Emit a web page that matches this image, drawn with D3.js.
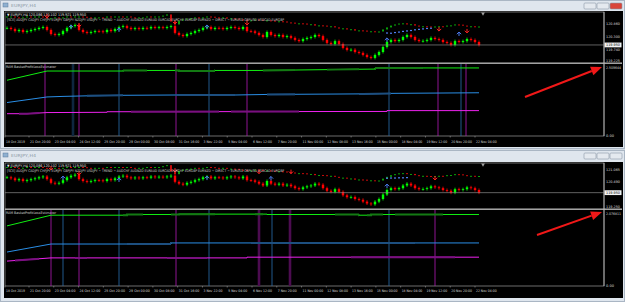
<!DOCTYPE html>
<html><head><meta charset="utf-8">
<script src="https://cdn.jsdelivr.net/npm/d3@7/dist/d3.min.js"></script>
<style>
body{margin:0;background:#d3dbe4;}
svg{display:block;font-family:"DejaVu Sans",sans-serif;}
</style></head>
<body><div id="chart"></div>
<script>
// EURJPY H4 closes (main candles), one per bar
const closes = [
  120.70,120.65,120.56,120.61,120.52,120.56,120.61,120.65,120.70,120.74,
  120.61,120.43,120.39,120.43,120.56,120.70,120.78,120.83,120.61,120.52,
  120.48,120.52,120.56,120.55,120.52,120.61,120.56,120.65,120.74,120.78,
  120.70,120.65,120.69,120.65,120.70,120.68,120.74,120.70,120.73,120.70,
  120.74,120.78,120.48,120.39,120.34,120.43,120.48,120.56,120.61,120.70,
  120.74,120.65,120.70,120.69,120.65,120.70,120.74,120.70,120.65,120.74,
  120.56,120.55,120.48,120.39,120.30,120.52,120.39,120.34,120.39,120.30,
  120.34,120.26,120.17,120.12,120.21,120.26,120.30,120.39,120.34,120.17,
  120.04,119.99,120.12,119.99,119.82,119.73,119.74,119.64,119.60,119.51,
  119.42,119.38,119.51,119.64,119.86,120.08,120.17,120.12,120.17,120.30,
  120.39,120.30,120.17,120.12,120.13,120.17,120.26,120.21,120.17,120.08,
  120.04,119.95,120.12,120.08,120.12,120.21,120.17,120.08,119.95
];
// upper overlay band (basket trend candles)
const band = [
  121.18,121.18,121.14,121.13,121.14,121.18,121.17,121.18,121.18,121.14,
  121.09,121.10,121.14,121.13,121.14,121.18,121.17,121.18,121.18,121.17,
  121.14,121.13,121.14,121.14,121.13,121.18,121.17,121.18,121.18,121.17,
  121.18,121.14,121.13,121.14,121.14,121.18,121.17,121.18,121.18,121.22,
  121.27,120.96,120.83,121.00,121.05,121.09,121.10,121.14,121.13,121.14,
  121.18,121.17,121.14,121.13,121.14,121.09,121.10,121.09,121.05,121.04,
  121.00,121.01,121.05,121.04,121.00,121.01,121.00,120.96,120.97,120.96,
  120.92,120.91,120.87,120.88,120.87,120.83,120.84,120.78,120.79,120.78,
  120.74,120.75,120.70,120.65,120.66,120.61,120.62,120.56,120.57,120.56,
  120.52,120.53,120.52,120.52,120.61,120.70,120.78,120.83,120.87,120.88,
  120.83,120.84,120.78,120.74,120.75,120.74,120.73,120.74,120.75,120.74,
  120.78,120.79,120.83,120.82,120.78,120.74,120.75,120.74,120.74
];
const timeLabels = ["18 Oct 2019","21 Oct 20:00","23 Oct 04:00","24 Oct 12:00","25 Oct 20:00",
  "29 Oct 00:00","30 Oct 08:00","31 Oct 16:00","3 Nov 22:00","5 Nov 04:00","6 Nov 12:00",
  "7 Nov 20:00","11 Nov 00:00","12 Nov 08:00","13 Nov 16:00","15 Nov 00:00","18 Nov 04:00",
  "19 Nov 12:00","20 Nov 20:00","22 Nov 04:00"];

// top window
const upTop = [[16,120.83],[28,120.70],[50,120.83],[95,120.26],[113,120.52]];
const downTop = [[10,121.14],[18,120.74],[42,120.87],[60,120.83],[108,120.56],[115,120.48]];
const trailTop = [[95,120.48],[96,120.47],[97,120.50],[98,120.52],[99,120.55],[100,120.57],
  [101,120.59],[102,120.62],[103,120.64],[104,120.66],[105,120.68],[106,120.69]];
const vlinesTop = [[9.5,"m"],[16.5,"n"],[18,"m"],[28,"b"],[42.25,"m"],[50.5,"b"],[60,"m"],
  [95.5,"b"],[107.75,"m"],[113.5,"b"],[114.75,"m"]];
const greenTop = [[0,2.00],[10,2.33],[29,2.33],[29,2.35],[43,2.35],[43,2.33],[52,2.33],[52,2.35],
  [63,2.35],[80,2.38],[92,2.40],[92,2.44],[118,2.44]];
const blueTop = [[0,1.20],[10,1.40],[14,1.42],[20,1.44],[29,1.46],[42,1.47],[57,1.47],[65,1.49],
  [89,1.51],[97,1.53],[118,1.55]];
const magentaTop = [[0,0.80],[5,0.80],[10,0.84],[25,0.85],[25,0.87],[95,0.88],[95,0.91],[118,0.91]];
const darkTop = {g:[[29,35],[42,52],[64,72],[80,88],[92,104]], b:[[20,29],[42,57],[65,72],[88,96]], m:[[3,8],[31,53],[56,73]]};

// bottom window
const upBot = [[14,120.76],[28,120.67],[50,120.76],[66,120.74],[95,120.37]];
const downBot = [[11,121.06],[18,120.81],[42,120.96],[63,120.88],[71,120.88],[107,120.57]];
const trailBot = [[95,120.66],[96,120.67],[97,120.67],[98,120.68],[99,120.68],[100,120.69]];
const vlinesBot = [[11,"m"],[14,"b"],[18,"m"],[28,"b"],[42.25,"m"],[50.5,"b"],[63,"d"],
  [66.25,"b"],[70.75,"d"],[95.5,"b"],[107,"m"]];
const greenBot = [[0,1.69],[11,1.99],[30,1.99],[30,2.01],[43,2.01],[43,2.02],[65,2.02],[65,2.01],
  [88,2.01],[88,1.99],[91,1.99],[91,2.01],[118,2.01]];
const blueBot = [[0,0.955],[11,1.18],[41,1.18],[41,1.21],[118,1.21]];
const magentaBot = [[0,0.70],[11,0.79],[60,0.79],[60,0.81],[118,0.81]];
const darkBot = {g:[[29,34],[41,52],[62,64],[82,88],[90,94],[97,109]], b:[[30,41],[61,102]], m:[[2,8],[17,20],[40,50],[86,112]]};

const svg = d3.select("#chart").append("svg").attr("width", 625).attr("height", 302);
svg.append("rect").attr("width", 625).attr("height", 302).attr("fill", "#d3dbe4");

const x = d3.scaleLinear().domain([-0.5, 149.5]).range([5, 605]);
const tx = d3.scaleLinear().domain([1, 19]).range([29, 475]);
const fmt = d3.format(".3f");
let clipId = 0;

function txt(g, s, px, py, size, fill, len) {
  const t = g.append("text").attr("x", px).attr("y", py).attr("font-size", size)
    .attr("fill", fill).attr("dominant-baseline", "middle").text(s);
  if (len) t.attr("textLength", len).attr("lengthAdjust", "spacingAndGlyphs");
  return t;
}

function drawWindow(p) {
  const g = svg.append("g");
  // window frame + title bar
  g.append("rect").attr("x", 0.5).attr("y", p.win[0] + 0.5).attr("width", 624).attr("height", p.win[1] - p.win[0])
    .attr("fill", "#dfe6ee").attr("stroke", "#aab6c4");
  g.append("rect").attr("x", 3).attr("y", p.win[0] + 3).attr("width", 5).attr("height", 4)
    .attr("fill", "#8fb0d0").attr("stroke", "#5a7a9a").attr("stroke-width", 0.5);
  txt(g, "EURJPY,H4", 11, p.win[0] + 5.5, 4.2, "#8a96a4", 25);
  const bx = [584, 597, 610];
  bx.forEach((b, i) => {
    g.append("rect").attr("x", b).attr("y", p.win[0] + 3).attr("width", 12).attr("height", 6).attr("rx", 1)
      .attr("fill", i === 2 && p.active ? "#d9453a" : "#e4e9ef").attr("stroke", "#8c98a6").attr("stroke-width", 0.6);
  });

  const top = p.main[0], bot = p.ind[1];
  g.append("rect").attr("x", 4).attr("y", top - 1).attr("width", 619).attr("height", p.timeBottom - top + 1).attr("fill", "#000");

  const y = d3.scaleLinear().domain([119.2, 121.4]).range([p.main[1], p.main[0]]);
  const yi = d3.scaleLinear().domain([0, p.indMax]).range([p.ind[1], p.ind[0] + 2]);

  // frame lines
  g.append("rect").attr("x", 5).attr("y", top).attr("width", 599).attr("height", bot - top)
    .attr("fill", "none").attr("stroke", "#9c9c9c").attr("stroke-width", 0.7);
  g.append("rect").attr("x", 5).attr("y", p.main[1] + 0.5).attr("width", 617).attr("height", 1.4).attr("fill", "#b4b4b4");
  g.append("line").attr("x1", 604).attr("x2", 604).attr("y1", top).attr("y2", bot).attr("stroke", "#bdbdbd").attr("stroke-width", 0.8);

  // header texts
  txt(g, "\u25BC EURJPY,H4  120.086 120.102 119.921 119.950", 7, top + 3.5, 3.6, "#e0e0e0", 79);

  // band candles
  const mg = g.append("g");
  mg.selectAll(".band").data(band).join("rect")
    .attr("x", (d, i) => x(i) - 1)
    .attr("y", (d, i) => y(Math.max(d, i ? band[i - 1] : d)) - 0.5)
    .attr("width", 2)
    .attr("height", (d, i) => Math.max(1, Math.abs(y(d) - y(i ? band[i - 1] : d))))
    .attr("fill", (d, i) => d >= (i ? band[i - 1] : d) ? "#0aa00a" : "#c80a0a");

  txt(g, "[SCE] AUDJPY CADJPY CHFJPY EURJPY GBPJPY NZDJPY USDJPY ~ TREND ~ AUDCHF AUDNZD EURAUD EURCAD EURCHF EURGBP EURNZD ~ DIRECT ~ EURUSD GBPUSD USDCAD EURGBP",
    7, top + 8, 3.6, "#d0d0d0", 277);

  // bid line
  const last = closes[closes.length - 1];
  g.append("line").attr("x1", 5).attr("x2", 604).attr("y1", y(last)).attr("y2", y(last))
    .attr("stroke", "#8a8a8a").attr("stroke-width", 0.7);

  // main candles
  const prev = (i) => i ? closes[i - 1] : closes[0];
  mg.selectAll(".wick").data(closes).join("line")
    .attr("x1", (d, i) => x(i)).attr("x2", (d, i) => x(i))
    .attr("y1", (d, i) => y(Math.max(d, prev(i))) - 1.5)
    .attr("y2", (d, i) => y(Math.min(d, prev(i))) + 1.5)
    .attr("stroke", (d, i) => d >= prev(i) ? "#00ff00" : "#ff0000").attr("stroke-width", 0.8);
  mg.selectAll(".body").data(closes).join("rect")
    .attr("x", (d, i) => x(i) - 1.2)
    .attr("y", (d, i) => y(Math.max(d, prev(i))))
    .attr("width", 2.4)
    .attr("height", (d, i) => Math.max(0.8, Math.abs(y(d) - y(prev(i)))))
    .attr("fill", (d, i) => d >= prev(i) ? "#00ff00" : "#ff0000");

  // trail dots
  mg.selectAll(".trail").data(p.trail).join("rect")
    .attr("x", d => x(d[0]) - 1).attr("y", d => y(d[1]) - 0.5).attr("width", 2).attr("height", 1.2).attr("fill", "#4f7ff0");

  // arrows
  p.up.forEach(d => {
    const ax = x(d[0]), ay = y(d[1]);
    mg.append("path").attr("d", `M${ax},${ay + 4}V${ay}M${ax - 2.2},${ay + 2.2}L${ax},${ay}L${ax + 2.2},${ay + 2.2}`)
      .attr("fill", "none").attr("stroke", "#4a78ea").attr("stroke-width", 1);
  });
  p.down.forEach(d => {
    const ax = x(d[0]), ay = y(d[1]);
    mg.append("path").attr("d", `M${ax},${ay - 4}V${ay}M${ax - 2.2},${ay - 2.2}L${ax},${ay}L${ax + 2.2},${ay - 2.2}`)
      .attr("fill", "none").attr("stroke", "#ff2020").attr("stroke-width", 1);
  });

  // shift marker
  g.append("path").attr("d", d3.symbol(d3.symbolTriangle, 6)())
    .attr("transform", `translate(483,${top + 1.5}) rotate(180)`).attr("fill", "#a0a0a0");

  // price axis
  p.ticks.forEach(v => txt(g, fmt(v), 606, y(v), 3.4, "#d8d8d8", 14));
  g.append("rect").attr("x", 604.5).attr("y", y(last) - 2.4).attr("width", 17).attr("height", 4.8).attr("fill", "#f2f2f2");
  txt(g, fmt(last), 606, y(last), 3.4, "#000", 14);

  // indicator
  txt(g, "RAM BasketProfitLossEstimator", 6, p.ind[0] + 3, 3.4, "#d8d8d8", 50);
  const vcol = {m: ["#b21ab8", 0.8], b: ["#2a6fb0", 0.8], n: ["#0e2740", 2.6], d: ["#4c0c50", 2.6]};
  g.selectAll(".vl").data(p.vlines).join("line")
    .attr("x1", d => x(d[0])).attr("x2", d => x(d[0]))
    .attr("y1", p.ind[0]).attr("y2", bot)
    .attr("stroke", d => vcol[d[1]][0]).attr("stroke-width", d => vcol[d[1]][1]);

  const line = d3.line().x(d => x(d[0])).y(d => yi(d[1]));
  const series = [["g", p.green, "#11ee11", "#137a13"], ["b", p.blue, "#2a8ee6", "#1d4f80"], ["m", p.magenta, "#ee22ee", "#7a1080"]];
  series.forEach(s => {
    g.append("path").attr("d", line(s[1])).attr("fill", "none").attr("stroke", s[2]).attr("stroke-width", 1);
    const id = "clip" + (clipId++);
    const cp = g.append("clipPath").attr("id", id);
    p.dark[s[0]].forEach(r => cp.append("rect").attr("x", x(r[0])).attr("width", x(r[1]) - x(r[0]))
      .attr("y", p.ind[0]).attr("height", bot - p.ind[0]));
    g.append("path").attr("d", line(s[1])).attr("fill", "none").attr("stroke", s[3]).attr("stroke-width", 2)
      .attr("clip-path", `url(#${id})`);
  });
  txt(g, p.indTopLabel, 606, p.ind[0] + 4, 3.4, "#d8d8d8", 15);
  txt(g, "0.00", 606, bot, 3.4, "#d8d8d8", 8);

  // time axis
  timeLabels.forEach((s, k) => {
    const px = k === 0 ? 5 : tx(k);
    g.append("line").attr("x1", px).attr("x2", px).attr("y1", bot).attr("y2", bot + 1.5).attr("stroke", "#9c9c9c").attr("stroke-width", 0.6);
    txt(g, s, px + 1, p.timeY, 3.4, "#d8d8d8", s.length * 1.72);
  });
}

drawWindow({win: [0, 148], active: true, main: [12, 62], ind: [64, 136], timeY: 142, timeBottom: 147,
  ticks: [120.86, 120.30, 119.74, 119.225], indMax: 2.51, indTopLabel: "2.509644",
  up: upTop, down: downTop, trail: trailTop, vlines: vlinesTop,
  green: greenTop, blue: blueTop, magenta: magentaTop, dark: darkTop});
drawWindow({win: [150, 301], active: false, main: [163, 208], ind: [210, 286], timeY: 291.5, timeBottom: 298,
  ticks: [121.065, 120.49, 119.25], indMax: 2.08, indTopLabel: "2.076811",
  up: upBot, down: downBot, trail: trailBot, vlines: vlinesBot,
  green: greenBot, blue: blueBot, magenta: magentaBot, dark: darkBot});

// red annotation arrows
const notes = [[[525, 97], [602, 67]], [[537, 235], [602, 212]]];
notes.forEach(n => {
  const [a, b] = n;
  const ang = Math.atan2(b[1] - a[1], b[0] - a[0]);
  const L = 11, W = 4.5;
  const bx = b[0] - L * Math.cos(ang), by = b[1] - L * Math.sin(ang);
  svg.append("line").attr("x1", a[0]).attr("y1", a[1]).attr("x2", bx).attr("y2", by)
    .attr("stroke", "#f01818").attr("stroke-width", 2);
  svg.append("path").attr("d", `M${b[0]},${b[1]}L${bx - W * Math.sin(ang)},${by + W * Math.cos(ang)}L${bx + W * Math.sin(ang)},${by - W * Math.cos(ang)}Z`)
    .attr("fill", "#f01818");
});
</script>
</body></html>
